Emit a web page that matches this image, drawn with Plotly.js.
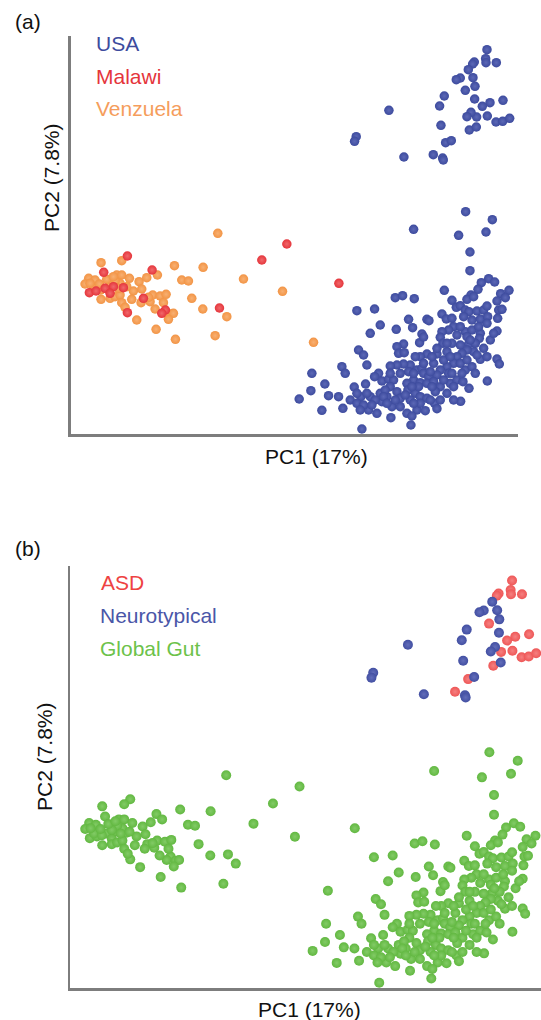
<!DOCTYPE html>
<html>
<head>
<meta charset="utf-8">
<script src="https://cdn.plot.ly/plotly-3.0.1.min.js"></script>
<style>
  html, body { margin: 0; padding: 0; background: #ffffff; }
  #chart { width: 541px; height: 1020px; }
</style>
</head>
<body>
<div id="chart"></div>
<script>
// ---- Data (PC1 / PC2 scores, arbitrary units) ----
// Lower "global gut" USA cluster
const usaGutX = [1184,1264,1028,1245,1163,1197,1197,1253,1271,1231,1221,1120,1314,1289,1200,1188,973,995,1030,1303,1278,1143,1208,
  858,911,1156,1168,1183,1194,1218,1238,1248,1283,1293,1113,1013,1068,1074,1126,1178,1203,1228,1250,1280,1143,
  928,976,1025,1148,1133,1113,1183,1203,1228,1248,1278,898,1168,1053,1046,1058,1108,1188,1225,1193,1168,1143,1116,998,1213,
  978,983,1000,863,878,1208,1188,1173,1158,1098,1068,1048,1033,1228,1248,1278,1128,
  888,813,823,723,1285,1148,1128,1108,1088,1018,998,978,958,1038,1053,1133,1098,1143,1013,923,911,1058,1183,1203,
  762,884,850,933,953,968,958,1073,1028,1048,1068,1088,1138,1158,1176,1249,1194,1008,1108,
  720,685,773,803,838,870,898,928,948,978,988,1011,1033,1048,1068,1018,1093,1128,858,
  753,816,858,933,963,893,918,1091,1038,1063,1098,1008,1169,878,988,1023,960,1020,873,
  888,913,943,973,1003,1043,1083,1118,1148,1078,1118,1138,1168,1188,1218,1238,1258,1268,1223,1198,1158,1128,1098,1083,1058,1028,988,958,938,868,903,948,1078,1048,1108,1148,1028,1023,1173,1213];
const usaGutY = [667,643,614,606,596,546,490,466,456,454,434,431,431,421,417,404,409,415,406,409,399,401,412,
  370,375,380,385,372,367,369,372,384,372,374,360,344,344,340,345,352,342,345,352,347,347,
  327,314,319,322,312,307,307,312,302,332,309,302,322,300,274,291,290,292,287,270,267,272,272,270,272,
  262,242,244,252,237,247,252,242,232,240,240,232,232,224,232,225,247,
  207,202,182,182,210,212,202,192,212,207,210,207,204,192,197,182,177,182,187,182,172,182,192,202,
  150,150,141,159,165,162,142,172,162,154,152,157,152,162,157,159,137,152,142,
  130,105,115,112,102,112,112,122,112,127,107,132,122,112,107,102,127,122,122,
  71,77,92,97,82,72,62,92,72,70,76,62,98,87,82,54,49,27,15,
  122,102,132,102,117,142,142,162,142,187,222,232,212,222,237,257,282,302,322,282,297,272,257,232,212,182,182,182,112,72,87,92,102,92,102,102,92,142,182,182];

// Upper cluster: ASD and neurotypical children (USA samples)
const asdX = [1248,1244,1245,1210,1205,1276,1183,1257,1234,1296,1217,1249,1275,1295,1316,1195,1124,1087];
const asdY = [1153,1126,1114,1116,1110,1114,1031,994,983,1001,951,954,936,938,947,912,874,838];
const ntX  = [1192,1206,1168,1156,1212,1120,1106,1211,1200,1188,1216,1110,1141,954,856,851,999,1115,1117];
const ntY  = [1093,1069,1068,1063,1043,1014,984,1005,965,952,921,926,880,971,892,878,831,828,822];

// Malawi
const malawiX = [170,244,99,573,648,804,128,103,56,76,118,158,218,284,273,170,446];
const malawiY = [534,492,485,522,570,452,442,437,424,429,422,439,407,372,362,364,378];

// Venezuela
const venezuelaX = [441,311,397,91,153,518,635,728,54,43,73,68,90,138,153,148,176,205,228,260,213,188,133,118,333,353,363,396,468,433,314,256,198,
  91,118,133,148,183,211,238,246,268,286,278,253,298,308,293,153,163,233,108,86,143,58,168,128];
const venezuelaY = [602,505,500,514,520,465,428,275,467,450,462,437,432,477,477,452,467,457,469,477,435,429,459,447,462,459,407,375,352,295,284,314,342,
  404,407,412,417,404,394,397,417,414,419,394,375,360,362,344,394,380,410,464,450,437,452,442,472];

// Legend labels
const labelsA = ['USA', 'Malawi', 'Venzuela'];
const labelsB = ['ASD', 'Neurotypical', 'Global Gut'];

// ---- Styling ----
const C = {
  usa: '#3d4b9e', usaHi: '#5c68b6',
  malawi: '#e5353b', malawiHi: '#f0686b',
  ven: '#f29445', venHi: '#f8b072',
  asd: '#ee5656', asdHi: '#f58080',
  nt: '#424fa2', ntHi: '#626dba',
  gg: '#62b841', ggHi: '#82cb66'
};
const FONT = 'Liberation Sans, Arial, Helvetica, sans-serif';

function pts(x, y, col, hi, xa, ya, size, name) {
  return {
    type: 'scatter', mode: 'markers', x: x, y: y, xaxis: xa, yaxis: ya, name: name,
    hoverinfo: 'skip',
    marker: { size: size, color: col, line: { width: 0 },
              gradient: { type: 'radial', color: hi } }
  };
}

const usaAllX = usaGutX.concat(asdX, ntX);
const usaAllY = usaGutY.concat(asdY, ntY);
const ggX = usaGutX.concat(malawiX, venezuelaX);
const ggY = usaGutY.concat(malawiY, venezuelaY);

const traces = [
  pts(usaAllX, usaAllY, C.usa, C.usaHi, 'x', 'y', 9.5, labelsA[0]),
  pts(venezuelaX, venezuelaY, C.ven, C.venHi, 'x', 'y', 9.5, labelsA[2]),
  pts(malawiX, malawiY, C.malawi, C.malawiHi, 'x', 'y', 9.5, labelsA[1]),
  pts(ggX, ggY, C.gg, C.ggHi, 'x2', 'y2', 10, labelsB[2]),
  pts(asdX, asdY, C.asd, C.asdHi, 'x2', 'y2', 10, labelsB[0]),
  pts(ntX, ntY, C.nt, C.ntHi, 'x2', 'y2', 10, labelsB[1])
];

const W = 541, H = 1020;
const px = v => v / W;
const py = v => 1 - v / H;

const axisCommon = {
  showline: true, linecolor: '#7d7d7d', linewidth: 2.5,
  showgrid: false, zeroline: false, showticklabels: false, ticks: '',
  fixedrange: true
};

function txt(text, x, y, color, opts) {
  return Object.assign({
    text: text, xref: 'paper', yref: 'paper', x: px(x), y: py(y),
    xanchor: 'left', yanchor: 'middle', showarrow: false,
    font: { family: FONT, size: 21, color: color }
  }, opts || {});
}

const layout = {
  width: W, height: H,
  margin: { l: 0, r: 0, t: 0, b: 0 },
  paper_bgcolor: '#ffffff', plot_bgcolor: '#ffffff',
  showlegend: false,
  xaxis: Object.assign({}, axisCommon, { domain: [px(70.7), px(518)], range: [0, 1341], anchor: 'y' }),
  yaxis: Object.assign({}, axisCommon, { domain: [py(434), py(36)], range: [0, 1194], anchor: 'x' }),
  xaxis2: Object.assign({}, axisCommon, { domain: [px(70), 1], range: [0, 1329.7], anchor: 'y2' }),
  yaxis2: Object.assign({}, axisCommon, { domain: [py(988), py(566)], range: [0, 1194], anchor: 'x2' }),
  annotations: [
    txt('(a)', 13, 21, '#111111'),
    txt('(b)', 13, 548, '#111111'),
    txt(labelsA[0], 94, 44, C.usa),
    txt(labelsA[1], 94, 77, C.malawi),
    txt(labelsA[2], 94, 109, '#f59d5c'),
    txt(labelsB[0], 99, 582, '#ee4242'),
    txt(labelsB[1], 98, 615, '#4a56a8'),
    txt(labelsB[2], 98, 648, '#6cc24a'),
    txt('PC1 (17%)', 316, 457, '#111111', { xanchor: 'center' }),
    txt('PC1 (17%)', 309, 1009, '#111111', { xanchor: 'center' }),
    txt('PC2 (7.8%)', 51, 178, '#111111', { xanchor: 'center', textangle: -90 }),
    txt('PC2 (7.8%)', 44, 757, '#111111', { xanchor: 'center', textangle: -90 })
  ]
};

Plotly.newPlot('chart', traces, layout, { staticPlot: true, displayModeBar: false });
</script>
</body>
</html>
